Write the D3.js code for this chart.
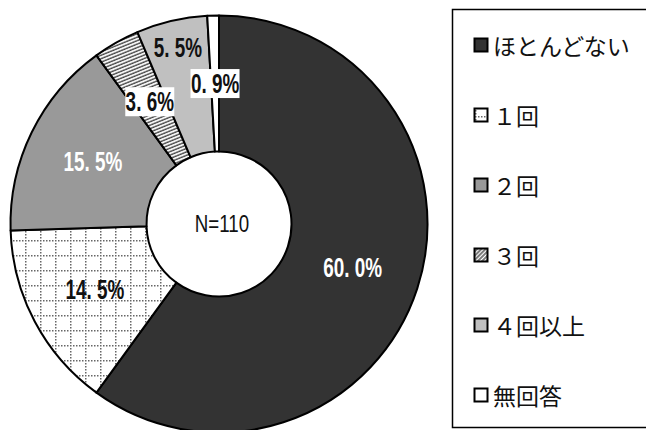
<!DOCTYPE html>
<html>
<head>
<meta charset="utf-8">
<script src="https://cdn.jsdelivr.net/npm/d3@7"></script>
<style>
  body { margin: 0; background: #fff; }
  svg { display: block; }
</style>
</head>
<body>
<script>
// data
var categories = ['ほとんどない', '１回', '２回', '３回', '４回以上', '無回答'];
var values = [60.0, 14.5, 15.5, 3.6, 5.5, 0.9];
var labels = ['60. 0%', '14. 5%', '15. 5%', '3. 6%', '5. 5%', '0. 9%'];
var totalLabel = 'N=110';

var w = 646, h = 430;
var cx = 219, cy = 224;
var outerR = 208.5, innerR = 72.5;

var fills = ['#333333', 'url(#grid)', '#999999', 'url(#hatch)', '#c0c0c0', '#ffffff'];
var legendFills = ['#333333', 'url(#grid)', '#999999', 'url(#hatchLegend)', '#c0c0c0', '#ffffff'];
var labelColors = ['#fff', '#111', '#fff', '#111', '#111', '#111'];
var labelBoxed = [false, false, false, true, false, true];
var labelRadius = [null, null, null, null, 181, null];

var svg = d3.select('body').append('svg')
    .attr('width', w)
    .attr('height', h);

var defs = svg.append('defs');

var grid = defs.append('pattern')
    .attr('id', 'grid')
    .attr('patternUnits', 'userSpaceOnUse')
    .attr('width', 15).attr('height', 15)
    .attr('x', 1).attr('y', 1);
grid.append('rect').attr('width', 15).attr('height', 15).attr('fill', '#fff');
grid.append('path')
    .attr('d', 'M0,0.75H15M0.75,0V15')
    .attr('stroke', '#666')
    .attr('stroke-width', 1.5)
    .attr('stroke-dasharray', '1.5,1.5');

var hatch = defs.append('pattern')
    .attr('id', 'hatch')
    .attr('patternUnits', 'userSpaceOnUse')
    .attr('width', 6).attr('height', 3.2)
    .attr('patternTransform', 'rotate(-22)');
hatch.append('rect').attr('width', 6).attr('height', 3.2).attr('fill', '#fff');
hatch.append('line')
    .attr('x1', 0).attr('x2', 6).attr('y1', 1).attr('y2', 1)
    .attr('stroke', '#444').attr('stroke-width', 1.4);

var hatchLegend = defs.append('pattern')
    .attr('id', 'hatchLegend')
    .attr('patternUnits', 'userSpaceOnUse')
    .attr('width', 6).attr('height', 3)
    .attr('patternTransform', 'rotate(-45)');
hatchLegend.append('rect').attr('width', 6).attr('height', 3).attr('fill', '#fff');
hatchLegend.append('line')
    .attr('x1', 0).attr('x2', 6).attr('y1', 1).attr('y2', 1)
    .attr('stroke', '#333').attr('stroke-width', 1.3);

var data = categories.map(function(c, i) {
  return { name: c, value: values[i], label: labels[i], i: i };
});

var pie = d3.pie()
    .value(function(d) { return d.value; })
    .sort(null);

var arc = d3.arc()
    .innerRadius(innerR)
    .outerRadius(outerR);

var chart = svg.append('g')
    .attr('transform', 'translate(' + cx + ',' + cy + ')');

var arcs = pie(data);

chart.selectAll('.slice')
    .data(arcs)
    .enter()
    .append('path')
    .attr('class', 'slice')
    .attr('d', arc)
    .attr('fill', function(d) { return fills[d.data.i]; })
    .attr('stroke', '#000')
    .attr('stroke-width', 2)
    .attr('stroke-linejoin', 'round');

// center label
chart.append('g')
    .attr('transform', 'translate(3,0) scale(0.78,1)')
  .append('text')
    .attr('text-anchor', 'middle')
    .attr('dominant-baseline', 'central')
    .attr('font-family', 'Liberation Sans, Arial, sans-serif')
    .attr('font-size', 24)
    .attr('fill', '#111')
    .text(totalLabel);

// slice labels
var lbl = chart.selectAll('.lbl')
    .data(arcs)
    .enter()
    .append('g')
    .attr('class', 'lbl')
    .attr('transform', function(d) {
      var c;
      var r = labelRadius[d.data.i];
      if (r) {
        c = d3.arc().innerRadius(r).outerRadius(r).centroid(d);
      } else {
        c = arc.centroid(d);
      }
      return 'translate(' + c[0] + ',' + c[1] + ')';
    });

lbl.filter(function(d) { return labelBoxed[d.data.i]; })
    .append('rect')
    .attr('x', -24.5)
    .attr('y', -14.5)
    .attr('width', 49)
    .attr('height', 29)
    .attr('fill', '#fff');

lbl.append('g')
    .attr('transform', 'scale(0.7,1)')
  .append('text')
    .attr('text-anchor', 'middle')
    .attr('dominant-baseline', 'central')
    .attr('font-family', 'Liberation Sans, Arial, sans-serif')
    .attr('font-weight', 'bold')
    .attr('font-size', 27)
    .attr('fill', function(d) { return labelColors[d.data.i]; })
    .text(function(d) { return d.data.label; });

// legend
var legend = svg.append('g');
legend.append('rect')
    .attr('x', 452.5)
    .attr('y', 9.5)
    .attr('width', 260)
    .attr('height', 418)
    .attr('fill', '#fff')
    .attr('stroke', '#000')
    .attr('stroke-width', 1.5);

var ly = d3.scalePoint()
    .domain(categories)
    .range([45, 395]);

var item = legend.selectAll('.item')
    .data(data)
    .enter()
    .append('g')
    .attr('class', 'item')
    .attr('transform', function(d) { return 'translate(474,' + ly(d.name) + ')'; });

item.append('rect')
    .attr('x', 0.5)
    .attr('y', -6.5)
    .attr('width', 13)
    .attr('height', 13)
    .attr('fill', function(d) { return legendFills[d.i]; })
    .attr('stroke', '#000')
    .attr('stroke-width', 2);

item.append('text')
    .attr('x', 19)
    .attr('y', 0)
    .attr('dominant-baseline', 'central')
    .attr('font-family', 'Noto Sans CJK JP, sans-serif')
    .attr('font-size', 23)
    .attr('fill', '#111')
    .text(function(d) { return d.name; });
</script>
</body>
</html>
